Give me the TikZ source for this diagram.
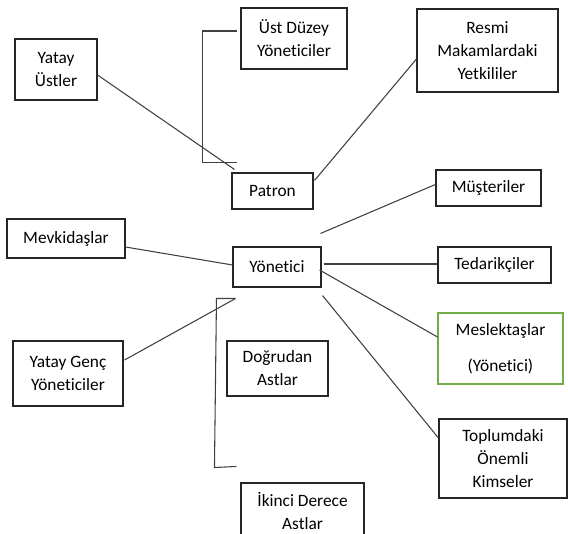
\documentclass[tikz,border=0pt]{standalone}
\usepackage{fontspec}
\setmainfont{Carlito}[Ligatures=NoCommon]
\usetikzlibrary{positioning}
\definecolor{wordgreen}{RGB}{112,173,71}

\begin{document}
\begin{tikzpicture}[
  x=0.75pt, y=-0.75pt,
  box/.style={rectangle, draw=black!85, line width=0.8pt, align=center,
              inner sep=2pt, font=\fontsize{13}{17.25}\selectfont},
  greenbox/.style={box, draw=wordgreen},
  boxsize/.style 2 args={minimum width=#1*0.75pt, minimum height=#2*0.75pt},
  link/.style={black!75, line width=0.8pt}
]
\useasboundingbox (0,0) rectangle (568,534);
\clip (0,0) rectangle (568,534);

\node[box, boxsize={82}{61}] (yu) at (56,69.5) {Yatay\\Üstler};
\node[box, boxsize={106}{61}] (ust) at (294,38.5) {Üst Düzey\\Yöneticiler};
\node[box, boxsize={141}{83}] (resmi) at (487.5,50.5) {Resmi\\Makamlardaki\\Yetkililer};
\node[box, boxsize={81}{36}] (patron) at (272.5,191) {Patron};
\node[box, boxsize={105}{36}] (must) at (488.5,188) {Müşteriler};
\node[box, boxsize={118}{39}] (mevki) at (66,238.5) {Mevkidaşlar};
\node[box, boxsize={88}{40}] (yon) at (277,267) {Yönetici};
\node[box, boxsize={113}{36}] (ted) at (494.5,265) {Tedarikçiler};
\node[greenbox, boxsize={125}{71}] (mes) at (500.5,348.5) {Meslektaşlar\\[10pt](Yönetici)};
\node[box, boxsize={110}{65}] (ygy) at (68,373.5) {Yatay Genç\\Yöneticiler};
\node[box, boxsize={101}{55}] (dog) at (277.5,368.5) {Doğrudan\\Astlar};
\node[box, boxsize={128}{79}] (top) at (503,458.5) {Toplumdaki\\Önemli\\Kimseler};
\node[box, boxsize={123}{55}] (ikinci) at (302.5,510.5) {İkinci Derece\\Astlar};

% upper side
\draw[link] ([shift={(0,5.5)}]yu.east) -- ([shift={(3,-3)}]patron.north west);
\draw[link] ([shift={(-3,-7.5)}]ust.west) -- ++(-35,0) |- ([shift={(6,-10)}]patron.north west);
\draw[link] ([shift={(1,8)}]patron.north east) -- ([shift={(0,8.5)}]resmi.west);

% around the manager
\draw[link] ([shift={(-1,-13)}]yon.north east) -- ([shift={(1,-4)}]must.west);
\draw[link] ([shift={(0,8.5)}]mevki.east) -- ([shift={(0,-2)}]yon.west);
\draw[link] ([shift={(2,-3)}]yon.east) -- ([shift={(0,-1)}]ted.west);
\draw[link] ([shift={(-2,3)}]yon.east) -- ([shift={(0,-11.5)}]mes.west);
\draw[link] ([shift={(1,8)}]yon.south east) -- ([shift={(0,-20.5)}]top.west);
\draw[link] ([shift={(1,-13.5)}]ygy.east) -- ([shift={(3,11)}]yon.south west) coordinate (bt);

% subordinates bracket
\draw[link] (bt) -- ++(-19,0) -- ++(-2,169) -- ([shift={(-4,-16)}]ikinci.north west);

\end{tikzpicture}
\end{document}
